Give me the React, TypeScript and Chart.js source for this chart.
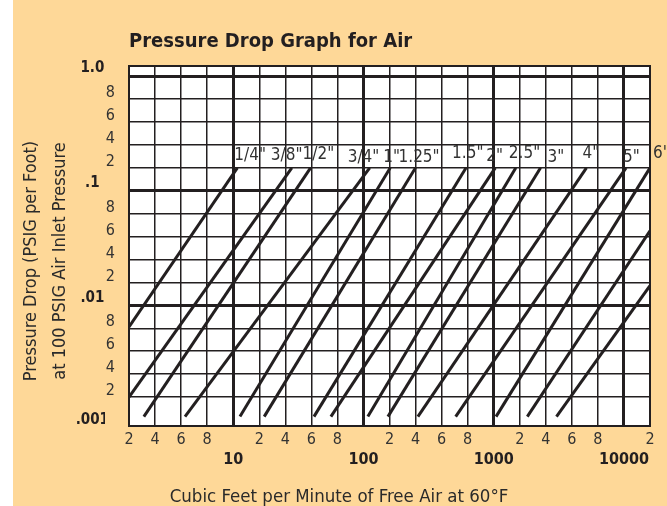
import React, { useEffect, useRef } from 'react';
import { Chart, registerables } from 'chart.js';

Chart.register(...registerables);

// ---------------- data ----------------
const TITLE = 'Pressure Drop Graph for Air';
const X_TITLE = 'Cubic Feet per Minute of Free Air at 60°F';
const Y_TITLE = ['Pressure Drop (PSIG per Foot)', 'at 100 PSIG Air Inlet Pressure'];

// pipe size of each drawn line ('' = unlabeled line)
const PIPE_LABELS = ['1/4"', '3/8"', '1/2"', '3/4"', '1"', '1.25"', '1.5"', '2"', '2.5"', '3"', '4"', '5"', '6"', '', ''];
// lower end of each line (CFM, PSIG per foot)
const LOW_CFM = [2, 2, 3.14, 6.3, 12.6, 23.8, 62, 75, 117, 194, 418, 708, 1090, 2580, 4820];
const LOW_PSI = [0.00812, 0.002, 0.00115, 0.00115, 0.00115, 0.00115, 0.00115, 0.00115, 0.00115, 0.00115, 0.00115, 0.00115, 0.00115, 0.00115, 0.00115];
// upper end of each line
const HIGH_CFM = [11.6, 45, 59.4, 124, 206, 400, 788, 1060, 1850, 3600, 7120, 10800, 20000, 20000, 20000];
const HIGH_PSI = [0.2, 0.2, 0.2, 0.2, 0.2, 0.2, 0.2, 0.2, 0.2, 0.2, 0.2, 0.2, 0.2, 0.065, 0.0186];

const X_TICKS = [2, 4, 6, 8, 10, 20, 40, 60, 80, 100, 200, 400, 600, 800, 1000, 2000, 4000, 6000, 8000, 10000, 20000];
const X_TICK_LABELS = ['2', '4', '6', '8', '10', '2', '4', '6', '8', '100', '2', '4', '6', '8', '1000', '2', '4', '6', '8', '10000', '2'];
const Y_TICKS = [0.001, 0.002, 0.004, 0.006, 0.008, 0.01, 0.02, 0.04, 0.06, 0.08, 0.1, 0.2, 0.4, 0.6, 0.8, 1.0];
const Y_TICK_LABELS = ['.001', '2', '4', '6', '8', '.01', '2', '4', '6', '8', '.1', '2', '4', '6', '8', '1.0'];

// ---------------- layout / style ----------------
const FONT = '"Liberation Sans Narrow", "DejaVu Sans Condensed", "Arial Narrow", sans-serif';
const INK = '#231f20';
const GREY = '#333333';
const PEACH = '#fed898';
const Y_FRAME_BELOW = 0.26; // frame extends below .001 (grid units)
const Y_FRAME_ABOVE = 0.44; // frame extends above 1.0 (grid units)
const LABEL_DX = [-3, -21, -8, -22, -7, -17, -14, -9, -7, 7, -4, -3, 3];
const LABEL_DY = [-12, -12, -13, -10, -10, -10, -14, -11, -14, -10, -14, -10, -14];

// chart paper: each decade split evenly into 1,2,4,6,8,10
function paperPos(value: number, firstExp: number) {
  const k = Math.floor(Math.log10(value) + 1e-9);
  const m = value / Math.pow(10, k);
  const f = m < 2 ? m - 1 : m / 2;
  return 5 * (k - firstExp) + f;
}
const gx = (cfm: number) => paperPos(cfm, 0) - 1;
const gy = (psi: number) => paperPos(psi, -3);
const isDecade = (v: number) => {
  const m = v / Math.pow(10, Math.floor(Math.log10(v) + 1e-9));
  return Math.abs(m - 1) < 1e-6;
};

const Y_MAJOR = Y_TICKS.filter(isDecade);

export default function App() {
  const ref = useRef<HTMLCanvasElement>(null);

  useEffect(() => {
    document.body.style.margin = '0';
    const canvas = ref.current!;

    const datasets = PIPE_LABELS.map((name, i) => ({
      label: name || 'line ' + (i + 1),
      data: [
        { x: gx(LOW_CFM[i]), y: gy(LOW_PSI[i]) },
        { x: gx(HIGH_CFM[i]), y: gy(HIGH_PSI[i]) },
      ],
      borderColor: INK,
      backgroundColor: INK,
      borderWidth: 3,
      pointRadius: 0,
      showLine: true,
      fill: false,
      borderCapStyle: 'butt' as const,
    }));

    const yMin = gy(Y_TICKS[0]) - Y_FRAME_BELOW;
    const yMax = gy(Y_TICKS[Y_TICKS.length - 1]) + Y_FRAME_ABOVE;

    const paperPlugin = {
      id: 'paper',
      beforeDraw(chart: any) {
        const { ctx, chartArea: a } = chart;
        ctx.save();
        ctx.fillStyle = '#ffffff';
        ctx.fillRect(a.left, a.top, a.right - a.left, a.bottom - a.top);
        ctx.restore();
      },
      afterDatasetsDraw(chart: any) {
        const { ctx, chartArea: a, scales } = chart;
        ctx.save();
        ctx.strokeStyle = INK;
        ctx.lineWidth = 2;
        ctx.strokeRect(a.left, a.top, a.right - a.left, a.bottom - a.top);
        // pipe size labels
        ctx.font = '17px ' + FONT;
        ctx.fillStyle = GREY;
        ctx.textAlign = 'left';
        ctx.textBaseline = 'middle';
        PIPE_LABELS.forEach((t, i) => {
          if (!t) return;
          const px = scales.x.getPixelForValue(gx(HIGH_CFM[i])) + LABEL_DX[i];
          const py = scales.y.getPixelForValue(gy(HIGH_PSI[i])) + LABEL_DY[i];
          ctx.fillText(t, px, py);
        });
        ctx.restore();
      },
      afterDraw(chart: any) {
        const { ctx } = chart;
        ctx.save();
        ctx.fillStyle = '#2a2a2a';
        ctx.font = '18.5px ' + FONT;
        ctx.textAlign = 'center';
        ctx.textBaseline = 'middle';
        ctx.fillText(X_TITLE, 339, 497);
        ctx.font = '18px ' + FONT;
        const xs = [31, 60];
        Y_TITLE.forEach((t, i) => {
          ctx.save();
          ctx.translate(xs[i], 261);
          ctx.rotate(-Math.PI / 2);
          ctx.fillText(t, 0, 0);
          ctx.restore();
        });
        ctx.restore();
      },
    };

    const chart = new Chart(canvas, {
      type: 'scatter',
      data: { datasets },
      options: {
        animation: false,
        responsive: false,
        devicePixelRatio: 1,
        layout: { padding: { left: 0, right: 17, top: 0, bottom: 0 } },
        plugins: {
          legend: { display: false },
          tooltip: { enabled: false },
          title: {
            display: true,
            text: TITLE,
            align: 'start',
            fullSize: false,
            color: INK,
            font: { family: FONT, size: 20, weight: 'bold', lineHeight: 1.2 },
            padding: { top: 30, bottom: 12 },
          },
        },
        scales: {
          x: {
            type: 'linear',
            min: gx(X_TICKS[0]),
            max: gx(X_TICKS[X_TICKS.length - 1]),
            afterBuildTicks: (s: any) => {
              s.ticks = X_TICKS.map((v) => ({ value: gx(v) }));
            },
            afterFit: (s: any) => {
              s.height = 80;
            },
            border: { display: false },
            grid: {
              drawTicks: false,
              color: INK,
              lineWidth: (c: any) => {
                const v = X_TICKS[c.index];
                if (v === undefined) return 1.5;
                if (c.index === 0 || c.index === X_TICKS.length - 1) return 2;
                return isDecade(v) ? 3 : 1.5;
              },
            },
            ticks: {
              autoSkip: false,
              maxRotation: 0,
              minRotation: 0,
              padding: 4.4,
              callback: (_v: any, i: number) =>
                isDecade(X_TICKS[i]) ? ['', X_TICK_LABELS[i]] : X_TICK_LABELS[i],
              font: (c: any) =>
                isDecade(X_TICKS[c.index] ?? 2)
                  ? { family: FONT, size: 16, weight: 'bold', lineHeight: 1.23 }
                  : { family: FONT, size: 16, weight: 'normal', lineHeight: 1.2 },
              color: (c: any) => (isDecade(X_TICKS[c.index] ?? 2) ? INK : GREY),
            },
          },
          y: {
            type: 'linear',
            position: 'left',
            weight: 0,
            min: yMin,
            max: yMax,
            afterBuildTicks: (s: any) => {
              s.ticks = Y_TICKS.map((v) => ({ value: gy(v) }));
            },
            afterFit: (s: any) => {
              s.width = 24;
            },
            border: { display: false },
            grid: {
              drawTicks: false,
              color: (c: any) => (c.index === 0 ? 'rgba(0,0,0,0)' : INK),
              lineWidth: (c: any) => (isDecade(Y_TICKS[c.index] ?? 2) ? 3 : 1.5),
            },
            ticks: {
              autoSkip: false,
              padding: 14,
              labelOffset: -6,
              crossAlign: 'near',
              callback: (_v: any, i: number) => (isDecade(Y_TICKS[i]) ? '' : Y_TICK_LABELS[i]),
              font: { family: FONT, size: 16, weight: 'normal' },
              color: GREY,
            },
          },
          yMajor: {
            type: 'linear',
            position: 'left',
            weight: 1,
            min: yMin,
            max: yMax,
            afterBuildTicks: (s: any) => {
              s.ticks = Y_MAJOR.map((v) => ({ value: gy(v) }));
            },
            afterFit: (s: any) => {
              s.width = 105;
            },
            border: { display: false },
            grid: { display: false, drawTicks: false },
            ticks: {
              autoSkip: false,
              padding: -4,
              labelOffset: -7.5,
              crossAlign: 'center',
              callback: (_v: any, i: number) => {
                const lbl = Y_TICK_LABELS[Y_TICKS.indexOf(Y_MAJOR[i])];
                return i === 0 ? ['', lbl] : lbl;
              },
              font: (c: any) => ({
                family: FONT,
                size: 15,
                weight: 'bold',
                lineHeight: c.index === 0 ? '15px' : 1.2,
              }),
              color: INK,
            },
          },
        },
      } as any,
      plugins: [paperPlugin],
    });

    return () => chart.destroy();
  }, []);

  return (
    <div
      style={{
        position: 'relative',
        width: 667,
        height: 506,
        overflow: 'hidden',
        background: `linear-gradient(to right, #ffffff 0px, #ffffff 13px, ${PEACH} 13px, ${PEACH} 100%)`,
      }}
    >
      <canvas ref={ref} width={667} height={506} style={{ display: 'block' }} />
    </div>
  );
}
